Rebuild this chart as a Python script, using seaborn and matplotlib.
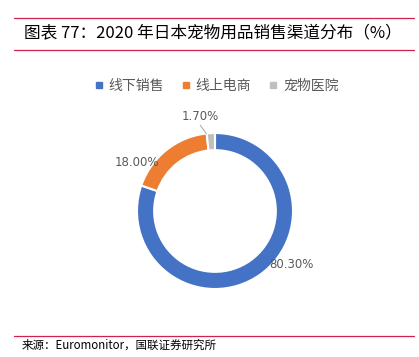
import matplotlib
matplotlib.use("Agg")
import matplotlib.pyplot as plt
import seaborn as sns

channels = ["线下销售", "线上电商", "宠物医院"]
shares = [80.3, 18.0, 1.7]
share_labels = ["80.30%", "18.00%", "1.70%"]
colors = ["#4472C4", "#ED7D31", "#BFBFBF"]

sns.set_theme(style="white")
plt.rcParams['font.family'] = ['Noto Sans CJK SC', 'DejaVu Sans']

fig = plt.figure(figsize=(4.19, 3.57), dpi=100)
W, H = 419, 357

# header / footer lines
line_col = "#D2204A"
for y in (18, 50, 336):
    fig.add_artist(plt.Line2D([14 / W, 414 / W], [1 - y / H, 1 - y / H],
                              color=line_col, lw=0.9))
fig.text(24 / W, 1 - 34 / H, "图表 77：2020 年日本宠物用品销售渠道分布（%）",
         fontsize=12, style="italic", va="center", ha="left", color="black")
fig.text(22 / W, 1 - 345 / H, "来源：Euromonitor，国联证券研究所",
         fontsize=8.3, va="center", ha="left", color="black")

# donut
cx, cy, r = 215, 211, 78
ax = fig.add_axes([(cx - r) / W, (H - cy - r) / H, 2 * r / W, 2 * r / H])
wedges, _ = ax.pie(shares, colors=colors, startangle=90, counterclock=False,
                   radius=1, wedgeprops=dict(width=0.22, edgecolor="white", linewidth=1.5))
ax.set_xlim(-1, 1)
ax.set_ylim(-1, 1)
ax.set_aspect("equal")
ax.axis("off")

label_pos = [(0.98, -0.68), (-1.0, 0.62), (-0.19, 1.21)]
for lab, (x, y) in zip(share_labels, label_pos):
    ax.text(x, y, lab, fontsize=8.5, color="#595959", ha="center", va="center",
            family=["DejaVu Sans"])
ax.plot([-0.19, -0.11], [1.1, 0.99], color="#A6A6A6", lw=0.7, clip_on=False)

handles = [plt.Line2D([], [], marker="s", ls="", color=c, markersize=4) for c in colors]
fig.legend(handles, channels, loc="center", bbox_to_anchor=(0.515, 1 - 86 / H),
           ncol=3, frameon=False, fontsize=10, labelcolor="#595959",
           handletextpad=0.3, columnspacing=1.2, handlelength=0.8)

fig.savefig("out.png", dpi=100, facecolor="white")
